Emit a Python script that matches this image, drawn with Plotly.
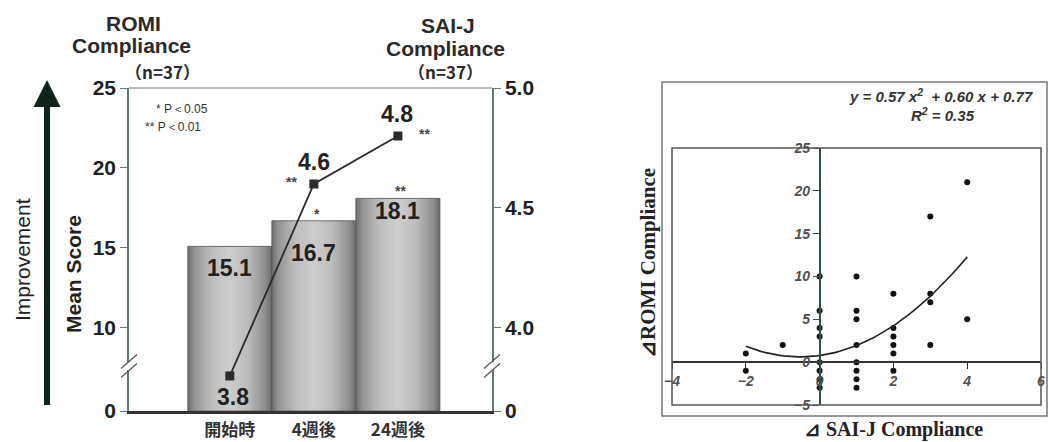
import numpy as np
import plotly.graph_objects as go

# ---------------- data: left chart ----------------
periods = ["開始時", "4週後", "24週後"]
romi_mean = [15.1, 16.7, 18.1]          # bars (left axis)
saij_mean = [3.8, 4.6, 4.8]             # line (right axis)
romi_sig = ["", "*", "**"]
saij_sig = ["", "**", "**"]
romi_tickvals = [10, 15, 20, 25]
saij_tickvals = [4.0, 4.5, 5.0]
n_label = "（n=37）"

# ---------------- data: right chart ----------------
d_saij = [-2, -2, -1,
          0, 0, 0, 0, 0, 0, 0, 0,
          1, 1, 1, 1, 1, 1, 1, 1,
          2, 2, 2, 2, 2, 2,
          3, 3, 3, 3,
          4, 4]
d_romi = [1, -1, 2,
          10, 6, 4, 3, 0, -1, -2, -3,
          10, 6, 5, 2, 0, -1, -2, -3,
          8, 4, 3, 2, 1, -1,
          17, 8, 7, 2,
          21, 5]
fit_coef = [0.57, 0.60, 0.77]
fit_r2 = 0.35
scatter_xticks = [-4, -2, 0, 2, 4, 6]
scatter_yticks = [-5, 0, 5, 10, 15, 20, 25]

# ---------------- layout helpers ----------------
W, H = 1048, 442
def px(x):
    return x / W
def py(y):
    return 1 - y / H

ROMI_BOTTOM = 4.81      # broken-axis bottom, labelled "0"
SAIJ_BOTTOM = 3.654     # broken-axis bottom, labelled "0"
SANS = "Liberation Sans, Arial, sans-serif"
CJK = "Noto Sans CJK JP"
SERIF = "Liberation Serif, Times New Roman, serif"

fig = go.Figure()

# bars as shaded cylinders
bar_scale = [[0.0, "#6e6e6e"], [0.08, "#949494"], [0.28, "#bdbdbd"],
             [0.50, "#cdcdcd"], [0.72, "#bbbbbb"], [0.92, "#8f8f8f"], [1.0, "#6a6a6a"]]
for i, v in enumerate(romi_mean):
    x0, x1 = i - 0.5, i + 0.5
    fig.add_trace(go.Scatter(
        x=[x0, x0, x1, x1, x0], y=[ROMI_BOTTOM, v, v, ROMI_BOTTOM, ROMI_BOTTOM],
        mode="lines", fill="toself",
        fillgradient=dict(type="horizontal", colorscale=bar_scale, start=x0, stop=x1),
        line=dict(color="#505050", width=0.8),
        xaxis="x", yaxis="y", hoverinfo="skip", showlegend=False))

# line on the right axis
fig.add_trace(go.Scatter(
    x=list(range(len(periods))), y=saij_mean, xaxis="x", yaxis="y2",
    mode="lines+markers",
    line=dict(color="#2b2b2b", width=1.8),
    marker=dict(symbol="square", size=9, color="#2b2b2b"),
    showlegend=False))

# scatter + fit
fig.add_trace(go.Scatter(
    x=d_saij, y=d_romi, xaxis="x2", yaxis="y3", mode="markers",
    marker=dict(size=6, color="#111111"), showlegend=False))
xf = np.linspace(min(d_saij), max(d_saij), 60)
yf = np.polyval(fit_coef, xf)
fig.add_trace(go.Scatter(
    x=xf, y=yf, xaxis="x2", yaxis="y3", mode="lines",
    line=dict(color="#222222", width=1.6), showlegend=False))

annotations = []
def ann(**kw):
    base = dict(showarrow=False, xanchor="center", yanchor="middle")
    base.update(kw)
    annotations.append(base)

# bar value labels
bar_label_dy = [-22, -32, -13]
for i, v in enumerate(romi_mean):
    ann(x=i, y=v, xref="x", yref="y", yshift=bar_label_dy[i], text=f"{v:.1f}",
        font=dict(family=SANS, size=23, color="#222222", weight="bold"))
# line value labels
line_label_dy = [-21, 22, 22]
line_label_dx = [3, 0, -1]
for i, v in enumerate(saij_mean):
    ann(x=i, y=v, xref="x", yref="y2", yshift=line_label_dy[i], xshift=line_label_dx[i],
        text=f"{v:.1f}", font=dict(family=SANS, size=23, color="#222222", weight="bold"))
# significance marks
for i, s in enumerate(romi_sig):
    if s:
        ann(x=i, y=romi_mean[i], xref="x", yref="y", yshift=7, xshift=3, text=s,
            font=dict(family=SANS, size=14, color="#444444", weight="bold"))
line_sig_dx = [0, -22, 27]
for i, s in enumerate(saij_sig):
    if s:
        ann(x=i, y=saij_mean[i], xref="x", yref="y2", yshift=2, xshift=line_sig_dx[i], text=s,
            font=dict(family=SANS, size=14, color="#444444", weight="bold"))

# headers of the left chart
hfont = dict(family=SANS, size=21, color="#2a2a2a", weight="bold")
ann(x=px(133), y=py(23), xref="paper", yref="paper", text="ROMI", font=hfont)
ann(x=px(131), y=py(46), xref="paper", yref="paper", text="Compliance", font=hfont)
ann(x=px(448), y=py(25), xref="paper", yref="paper", text="SAI-J", font=hfont)
ann(x=px(445), y=py(48), xref="paper", yref="paper", text="Compliance", font=hfont)
nfont = dict(family=CJK, size=17, color="#2a2a2a", weight="bold")
ann(x=px(162), y=py(72), xref="paper", yref="paper", text=n_label, font=nfont)
ann(x=px(445), y=py(72), xref="paper", yref="paper", text=n_label, font=nfont)

pfont = dict(family=SANS, size=12, color="#333333")
ann(x=px(154), y=py(109), xref="paper", yref="paper", xanchor="left", text="* P＜0.05", font=pfont)
ann(x=px(143), y=py(127), xref="paper", yref="paper", xanchor="left", text="** P＜0.01", font=pfont)

ann(x=px(73), y=py(274), xref="paper", yref="paper", text="Mean Score", textangle=-90,
    font=dict(family=SANS, size=21, color="#222222", weight="bold"))
ann(x=px(22), y=py(260), xref="paper", yref="paper", text="Improvement", textangle=-90,
    font=dict(family=SANS, size=21, color="#222222"))
# improvement arrow
annotations.append(dict(x=px(47), y=py(80), xref="paper", yref="paper", text=" ",
                        showarrow=True, ax=0, ay=335, arrowhead=2, arrowsize=0.9,
                        arrowwidth=6, arrowcolor="#10251a"))

# right chart texts
a, b, c = fit_coef
eqfont = dict(family=SANS, size=15, color="#333333", weight="bold", style="italic")
ann(x=px(941), y=py(95), xref="paper", yref="paper",
    text=f"y = {a:.2f} x<sup>2</sup>  + {b:.2f} x + {c:.2f}", font=eqfont)
ann(x=px(943), y=py(115), xref="paper", yref="paper",
    text=f"R<sup>2</sup> = {fit_r2:.2f}", font=eqfont)
tfont = dict(family=SERIF, size=21, color="#222222", weight="bold")
ann(x=px(648), y=py(263), xref="paper", yref="paper", text="⊿ROMI Compliance",
    textangle=-90, font=tfont)
ann(x=px(893), y=py(429), xref="paper", yref="paper", text="⊿ SAI-J Compliance",
    font=dict(family=SERIF, size=20, color="#222222", weight="bold"))

# shapes: top border, axis breaks, frames
shapes = []
shapes.append(dict(type="line", xref="x domain", yref="y domain", x0=0, x1=1, y0=1, y1=1,
                   line=dict(color="#777777", width=1.2)))
for ax_x, cy in [(129, 366), (492, 366)]:
    shapes.append(dict(type="rect", xref="paper", yref="paper",
                       x0=px(ax_x - 3), x1=px(ax_x + 3), y0=py(cy + 4), y1=py(cy - 4),
                       fillcolor="white", line=dict(width=0)))
    for off in (-4.5, 4.5):
        shapes.append(dict(type="line", xref="paper", yref="paper",
                           x0=px(ax_x - 8), y0=py(cy + off + 7),
                           x1=px(ax_x + 8), y1=py(cy + off - 7),
                           line=dict(color="#555555", width=1.2)))
shapes.append(dict(type="rect", xref="x2 domain", yref="y3 domain", x0=0, x1=1, y0=0, y1=1,
                   line=dict(color="#555555", width=1.5)))
shapes.append(dict(type="rect", xref="paper", yref="paper",
                   x0=px(662), x1=px(1047), y0=py(416), y1=py(82),
                   line=dict(color="#777777", width=1.5)))

tickfont_l = dict(family=SANS, size=21, color="#222222", weight="bold")
scfont = dict(family=SANS, size=14, color="#505050", weight="bold", style="italic")

fig.update_layout(
    width=W, height=H, margin=dict(l=0, r=0, t=0, b=0),
    template="none", paper_bgcolor="white", plot_bgcolor="rgba(0,0,0,0)",
    showlegend=False,
    xaxis=dict(domain=[px(129), px(492)], range=[-1.2, 3.12], anchor="y",
               tickvals=list(range(len(periods))), ticktext=periods,
               ticks="outside", ticklen=2, tickcolor="rgba(0,0,0,0)",
               tickfont=dict(family=CJK, size=17, color="#333333", weight="bold"),
               showline=True, linecolor="#333333", linewidth=2.5,
               showgrid=False, zeroline=False),
    yaxis=dict(domain=[py(411), py(88)], range=[ROMI_BOTTOM, 25], anchor="x",
               tickvals=[ROMI_BOTTOM] + romi_tickvals,
               ticktext=["0"] + [str(t) for t in romi_tickvals],
               ticks="outside", ticklen=7, tickcolor="#667777", tickfont=tickfont_l,
               showline=True, linecolor="#667777", linewidth=1.5,
               showgrid=False, zeroline=False),
    yaxis2=dict(overlaying="y", side="right", anchor="x", range=[SAIJ_BOTTOM, 5.0],
                tickvals=[SAIJ_BOTTOM] + saij_tickvals,
                ticktext=["0"] + [f"{t:.1f}" for t in saij_tickvals],
                ticks="outside", ticklen=7, tickcolor="#667777", tickfont=tickfont_l,
                showline=True, linecolor="#667777", linewidth=1.5,
                showgrid=False, zeroline=False),
    xaxis2=dict(domain=[px(672), px(1041)], range=[-4, 6], anchor="free",
                position=py(362), tickvals=scatter_xticks,
                ticks="outside", ticklen=6, tickcolor="#333333", tickfont=scfont,
                showline=True, linecolor="#333333", linewidth=1.5,
                showgrid=False, zeroline=False),
    yaxis3=dict(domain=[py(405), py(148)], range=[-5, 25], anchor="free",
                position=px(819.6), tickvals=scatter_yticks,
                ticks="outside", ticklen=6, tickcolor="#2f4f4f", tickfont=scfont,
                showline=True, linecolor="#2f4f4f", linewidth=1.5,
                showgrid=False, zeroline=False),
    annotations=annotations, shapes=shapes,
)

fig.write_html("out.html", config={"displayModeBar": False},
               post_script="document.body.style.margin='0';document.body.style.overflow='hidden';")
